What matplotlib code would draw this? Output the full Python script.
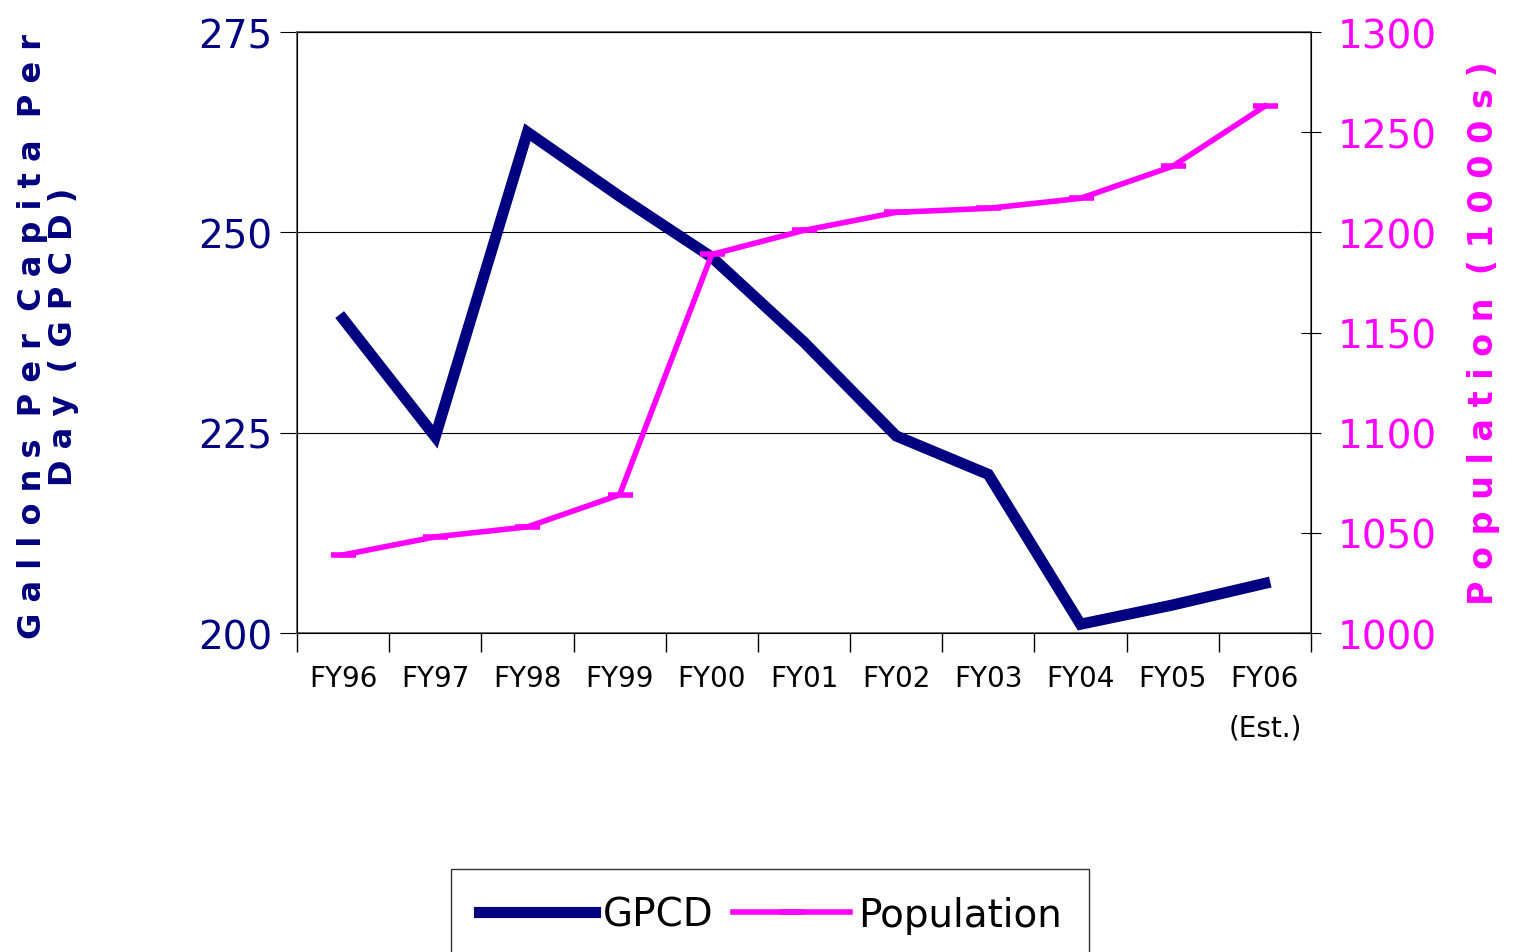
import matplotlib.pyplot as plt
from matplotlib import font_manager

names = {f.name for f in font_manager.fontManager.ttflist}
narrow = 'Liberation Sans Narrow' if 'Liberation Sans Narrow' in names else 'DejaVu Sans'
plt.rcParams['font.family'] = [narrow, 'DejaVu Sans']

categories = ['FY96', 'FY97', 'FY98', 'FY99', 'FY00', 'FY01', 'FY02', 'FY03', 'FY04', 'FY05', 'FY06\n(Est.)']
gpcd = [239.2, 224.5, 262.5, 254.5, 246.9, 236.3, 224.6, 219.8, 201.1, 203.5, 206.2]
population = [1039, 1048, 1053, 1069, 1189, 1201, 1210, 1212, 1217, 1233, 1263]

navy = '#000080'
magenta = '#FF00FF'

fig = plt.figure(figsize=(15.34, 9.53), dpi=100)
ax = fig.add_axes([0.1936, 0.3347, 0.661, 0.6306])
x = range(len(categories))
l1, = ax.plot(x, gpcd, color=navy, lw=8, solid_joinstyle='miter', label='GPCD')
ax.set_ylim(200, 275)
ax.set_yticks([200, 225, 250, 275])
ax.set_xlim(-0.5, len(categories) - 0.5)
ax.set_xticks(list(x))
ax.set_xticklabels(categories, fontsize=20, va='top', linespacing=2.0)
ax.set_xticks([i - 0.5 for i in range(len(categories) + 1)], minor=True)
ax.tick_params(axis='x', which='major', length=0, pad=22)
ax.tick_params(axis='x', which='minor', length=14, width=1)
ax.tick_params(axis='y', labelsize=28, labelcolor=navy, length=12, pad=6)
ax.grid(axis='y', color='black', lw=0.8)
for s in ax.spines.values():
    s.set_linewidth(1.2)
    s.set_color('#555555')
ax.set_ylabel('G a l l o n s  P e r  C a p i t a  P e r\nD a y  ( G P C D )', fontsize=23,
              color=navy, fontweight='bold', family='DejaVu Sans', linespacing=1.0)
ax.yaxis.set_label_coords(-0.215, 0.495)

ax2 = ax.twinx()
l2, = ax2.plot(x, population, color=magenta, lw=4, marker='_', ms=18, mew=4, label='Population')
ax2.set_ylim(1000, 1300)
ax2.set_yticks([1000, 1050, 1100, 1150, 1200, 1250, 1300])
ax2.tick_params(axis='y', labelsize=28, labelcolor=magenta, length=14, direction='inout', pad=12)
ax2.set_ylabel('P o p u l a t i o n  ( 1 0 0 0 s )', fontsize=24, color=magenta,
               fontweight='bold', family='DejaVu Sans', rotation=90, labelpad=22)

leg = fig.legend(handles=[l1, l2], loc='lower center', bbox_to_anchor=(0.502, -0.03), ncol=2,
                 fontsize=28, frameon=True, fancybox=False, edgecolor='black',
                 handlelength=3.0, columnspacing=0.5, handletextpad=0.2, borderpad=0.7)
leg.get_frame().set_linewidth(1)

fig.savefig('out.png', dpi=100)
